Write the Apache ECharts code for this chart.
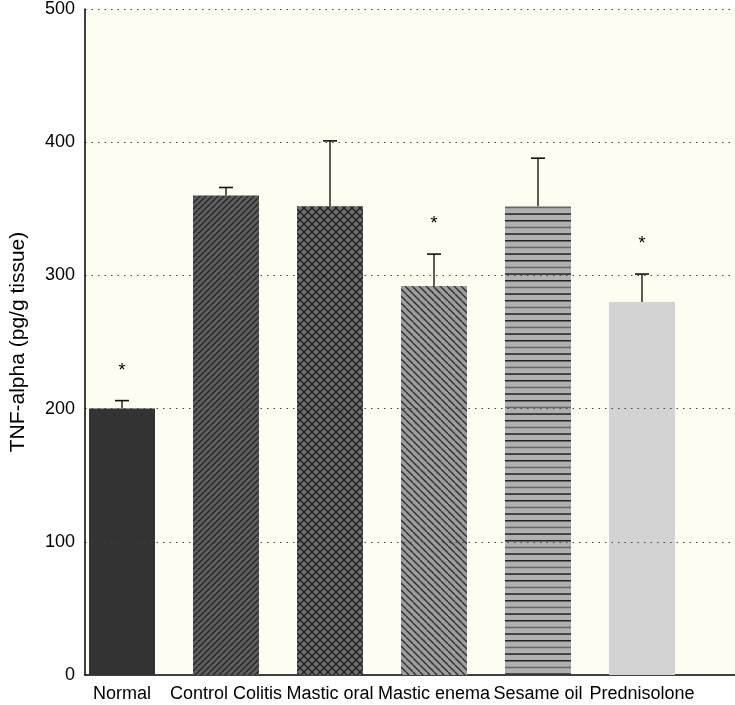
<!DOCTYPE html>
<html>
<head>
<meta charset="utf-8">
<script src="https://cdn.jsdelivr.net/npm/echarts@6/dist/echarts.min.js"></script>
<style>
html,body{margin:0;padding:0;background:#fff;}
#c{width:735px;height:705px;}
</style>
</head>
<body>
<div id="c"></div>
<script>
var categories = ['Normal', 'Control Colitis', 'Mastic oral', 'Mastic enema', 'Sesame oil', 'Prednisolone'];
var means = [200, 360, 352, 292, 352, 280];
var errors = [6, 6, 49, 24, 36, 21];
var significant = [true, false, false, true, false, true];
var yTicks = [0, 100, 200, 300, 400, 500];

function makePattern(size, base, draw) {
  var cv = document.createElement('canvas');
  cv.width = size; cv.height = size;
  var ctx = cv.getContext('2d');
  ctx.fillStyle = base;
  ctx.fillRect(0, 0, size, size);
  draw(ctx, size);
  return { image: cv, repeat: 'repeat' };
}
function fwd(ctx, s, col, w) {
  ctx.strokeStyle = col; ctx.lineWidth = w;
  for (var k = -1; k <= 1; k++) {
    ctx.beginPath(); ctx.moveTo(k * s, s); ctx.lineTo(k * s + s, 0); ctx.stroke();
  }
}
function back(ctx, s, col, w) {
  ctx.strokeStyle = col; ctx.lineWidth = w;
  for (var k = -1; k <= 1; k++) {
    ctx.beginPath(); ctx.moveTo(k * s, 0); ctx.lineTo(k * s + s, s); ctx.stroke();
  }
}

var fills = [
  '#333333',
  makePattern(6, '#5e5e5e', function (c, s) { fwd(c, s, '#262626', 1.4); }),
  makePattern(8, '#6e6e6e', function (c, s) { fwd(c, s, '#1e1e1e', 1.3); back(c, s, '#1e1e1e', 1.3); }),
  makePattern(7, '#9c9c9c', function (c, s) { back(c, s, '#2a2a2a', 1.3); }),
  (function () {
    var cv = document.createElement('canvas');
    cv.width = 4; cv.height = 20;
    var ctx = cv.getContext('2d');
    ctx.fillStyle = '#b0b0b0'; ctx.fillRect(0, 0, 4, 20);
    ctx.fillStyle = '#222222'; ctx.fillRect(0, 0, 4, 1.5); ctx.fillRect(0, 13.3, 4, 1.5);
    ctx.fillStyle = '#666666'; ctx.fillRect(0, 6.7, 4, 1.5);
    return { image: cv, repeat: 'repeat' };
  })(),
  '#d3d3d3'
];

var barData = means.map(function (v, i) {
  return { value: v, itemStyle: { color: fills[i] } };
});
var errData = means.map(function (v, i) {
  return [i, v, v + errors[i], significant[i] ? 1 : 0];
});

var chart = echarts.init(document.getElementById('c'), null, { renderer: 'canvas' });
chart.setOption({
  animation: false,
  backgroundColor: '#ffffff',
  grid: [
    { left: 70, width: 624, top: 9, bottom: 30, containLabel: false },
    { left: 81, right: 0, top: 9, bottom: 30, containLabel: false, show: true, backgroundColor: '#fdfdf1', borderWidth: 0 }
  ],
  xAxis: [
    {
      type: 'category', gridIndex: 0, data: categories,
      axisLine: { show: false }, axisTick: { show: false },
      axisLabel: { interval: 0, color: '#000', fontFamily: 'Liberation Sans', fontSize: 18, margin: 10 }
    },
    {
      type: 'value', gridIndex: 1, min: 0, max: 1,
      axisLine: { show: true, lineStyle: { color: '#000', width: 1.5 } },
      axisTick: { show: false }, axisLabel: { show: false }, splitLine: { show: false }
    }
  ],
  yAxis: [
    {
      type: 'value', gridIndex: 0, min: 0, max: 500, interval: 100,
      show: false
    },
    {
      type: 'value', gridIndex: 1, min: 0, max: 500, interval: 100, z: 5,
      name: 'TNF-alpha (pg/g tissue)', nameLocation: 'middle', nameGap: 56,
      nameTextStyle: { fontFamily: 'Liberation Sans', fontSize: 21, color: '#000' },
      axisLine: { show: true, lineStyle: { color: '#000', width: 1.5 } },
      axisTick: { show: false },
      axisLabel: { color: '#000', fontFamily: 'Liberation Sans', fontSize: 18, margin: 10 },
      splitLine: { show: true, lineStyle: { color: '#444', type: [1.5, 5], width: 1.2 } }
    }
  ],
  series: [
    {
      type: 'bar', xAxisIndex: 0, yAxisIndex: 0, data: barData, barWidth: 66, z: 2
    },
    {
      type: 'custom', xAxisIndex: 0, yAxisIndex: 0, z: 3, data: errData,
      renderItem: function (params, api) {
        var x = api.value(0);
        var p0 = api.coord([x, api.value(1)]);
        var p1 = api.coord([x, api.value(2)]);
        var children = [
          { type: 'line', shape: { x1: p0[0], y1: p0[1], x2: p1[0], y2: p1[1] }, style: { stroke: '#333', lineWidth: 1.6 } },
          { type: 'line', shape: { x1: p1[0] - 7, y1: p1[1], x2: p1[0] + 7, y2: p1[1] }, style: { stroke: '#111', lineWidth: 1.6 } }
        ];
        if (api.value(3) === 1) {
          children.push({ type: 'text', x: p1[0], y: p1[1] - 30, style: { text: '*', fontSize: 18, fontFamily: 'Liberation Sans', fill: '#000', align: 'center', verticalAlign: 'middle' } });
        }
        return { type: 'group', children: children };
      }
    }
  ]
});
</script>
</body>
</html>
